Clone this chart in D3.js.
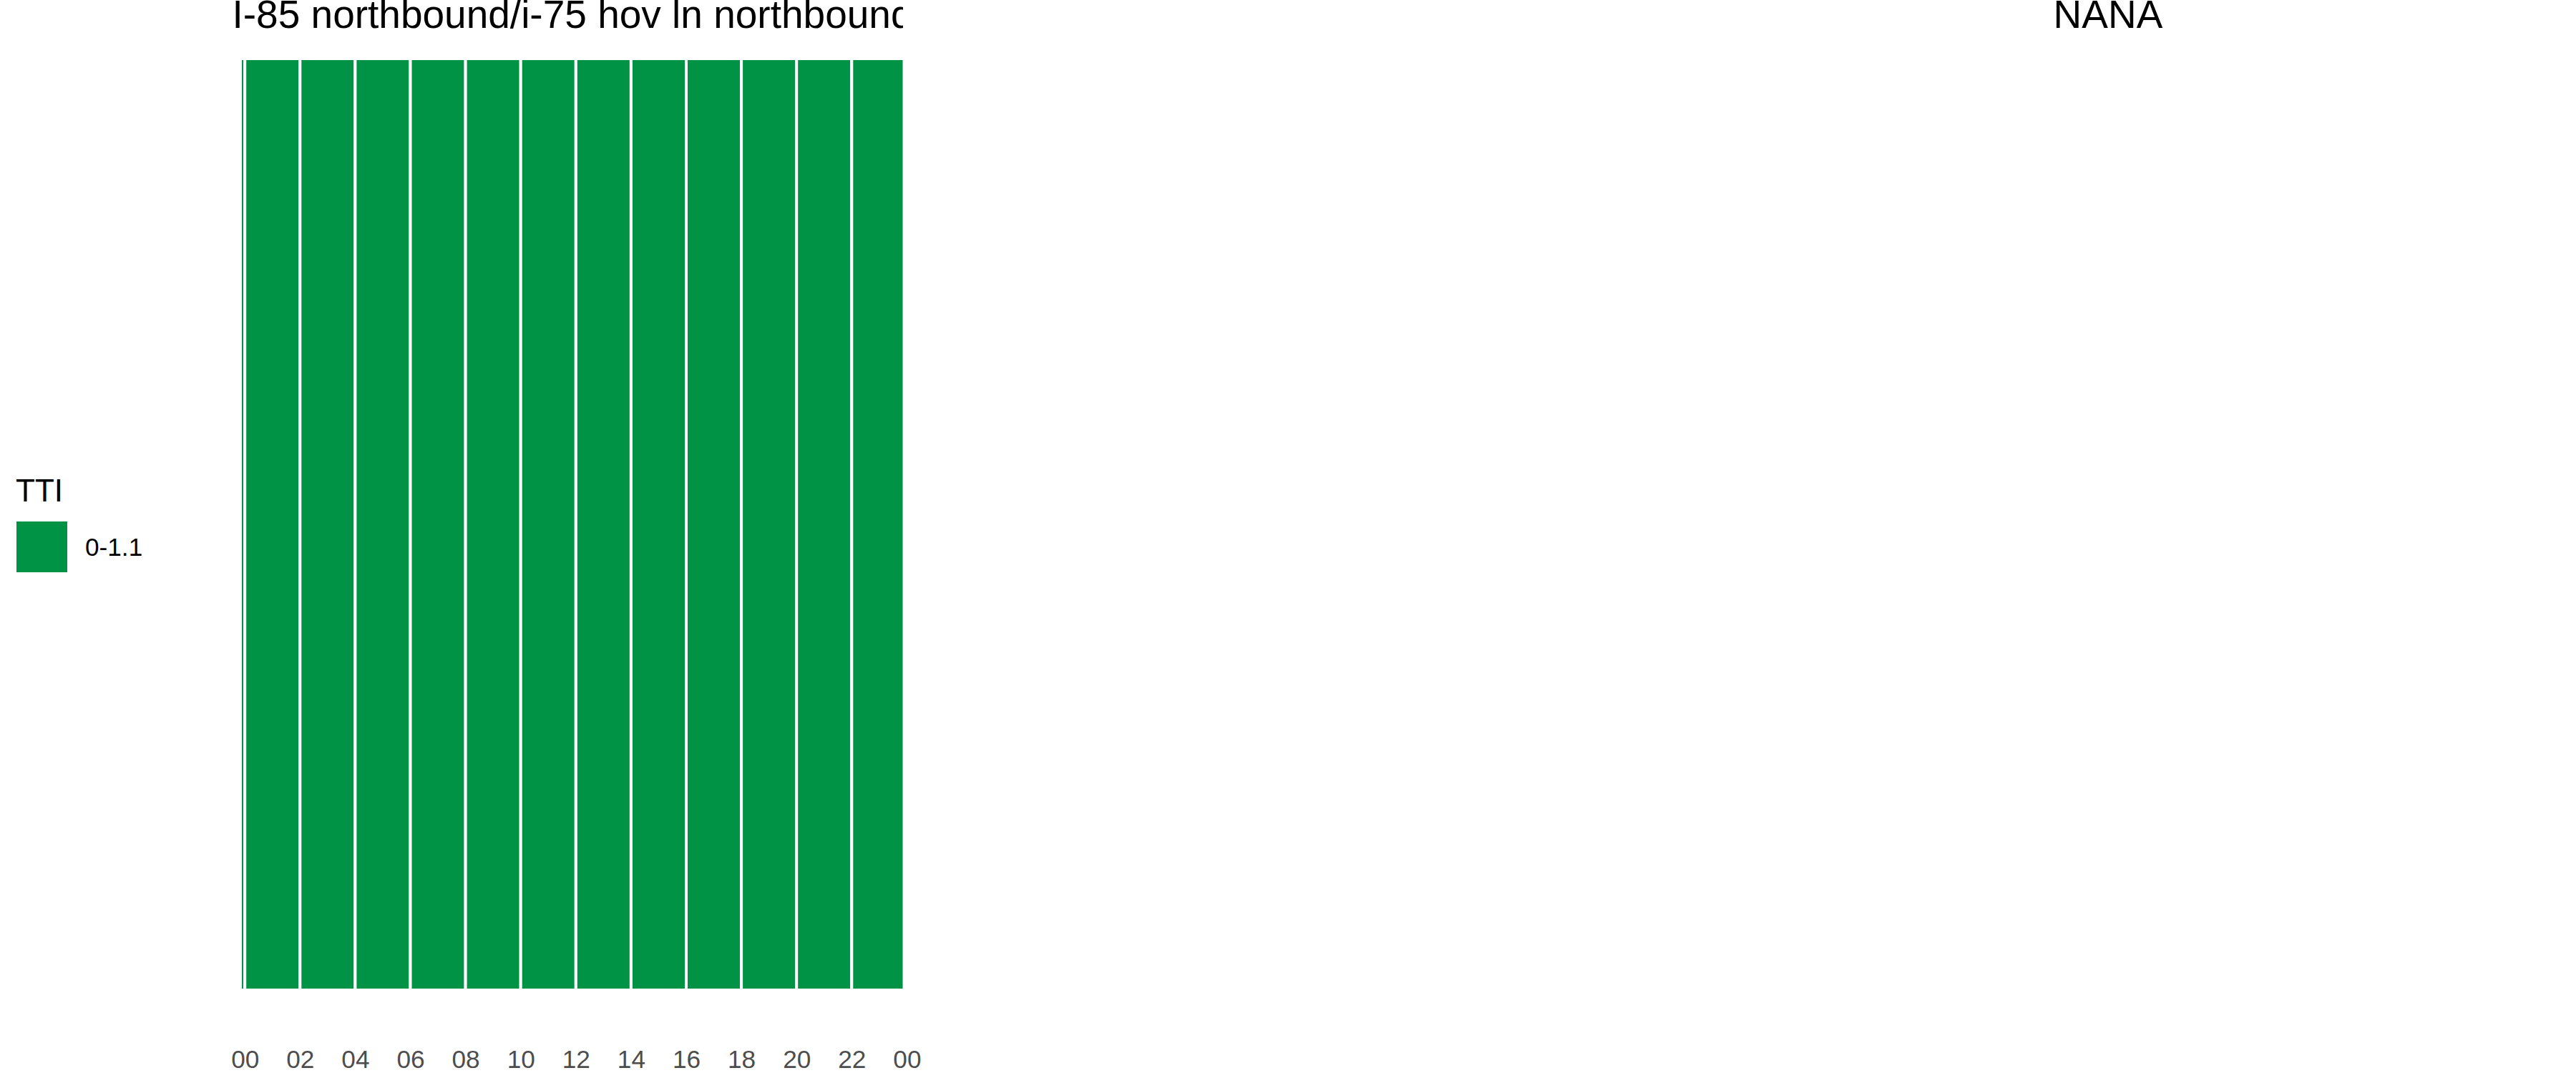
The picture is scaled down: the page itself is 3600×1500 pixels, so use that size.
<!DOCTYPE html>
<html>
<head>
<meta charset="utf-8">
<script src="https://cdn.jsdelivr.net/npm/d3@7"></script>
<style>
  html, body { margin: 0; padding: 0; background: #ffffff; }
  svg { display: block; font-family: "Liberation Sans", Arial, sans-serif; }
</style>
</head>
<body>
<svg id="chart" width="3600" height="1500"></svg>
<script>
// ---- data ----
const panelTitles = ["I-85 northbound/i-75 hov ln northbound", "NANA"];
const tileStartHour = [-0.16, 0, 2, 4, 6, 8, 10, 12, 14, 16, 18, 20, 22];
const tileEndHour   = [0, 2, 4, 6, 8, 10, 12, 14, 16, 18, 20, 22, 23.9];
const tileTTI       = ["0-1.1","0-1.1","0-1.1","0-1.1","0-1.1","0-1.1","0-1.1","0-1.1","0-1.1","0-1.1","0-1.1","0-1.1","0-1.1"];
const ttiLevels = ["0-1.1"];
const ttiColors = ["#009245"];
const tickHours = [0, 2, 4, 6, 8, 10, 12, 14, 16, 18, 20, 22, 24];
const tickLabels = ["00","02","04","06","08","10","12","14","16","18","20","22","00"];

// ---- layout ----
const svg = d3.select("#chart");
const panelL = 338, panelR = 1262;
const x = d3.scaleLinear().domain([0, 24]).range([342.2, 1267.4]);
const y = d3.scaleBand().domain(["segment"]).range([82, 1384]).padding(0);
const color = d3.scaleOrdinal().domain(ttiLevels).range(ttiColors);

const tiles = tileStartHour.map((s, i) => ({ s, e: tileEndHour[i], tti: tileTTI[i] }));

const defs = svg.append("defs");
defs.append("clipPath").attr("id", "titleClip")
  .append("rect").attr("x", 0).attr("y", 0).attr("width", panelR).attr("height", 80);

// tiles
svg.append("g").selectAll("rect").data(tiles).join("rect")
  .attr("x", d => x(d.s))
  .attr("width", d => x(d.e) - x(d.s))
  .attr("y", y("segment"))
  .attr("height", y.bandwidth())
  .attr("fill", d => color(d.tti))
  .attr("stroke", "#ffffff")
  .attr("stroke-width", 4);

// x axis labels
const axis = d3.axisBottom(x).tickValues(tickHours)
  .tickFormat((d, i) => tickLabels[i]).tickSize(0).tickPadding(0);
const gx = svg.append("g").attr("transform", "translate(0,1466)").call(axis);
gx.select(".domain").remove();
gx.selectAll("text")
  .attr("fill", "#4d4d4d")
  .attr("font-size", 35.2)
  .attr("dy", "0.78em")
  .attr("font-family", "'Liberation Sans', Arial, sans-serif");

// panel titles
svg.append("g").attr("clip-path", "url(#titleClip)")
  .append("text")
  .attr("x", (panelL + panelR) / 2)
  .attr("y", 39)
  .attr("text-anchor", "middle")
  .attr("font-size", 55)
  .attr("fill", "#000")
  .text(panelTitles[0]);

svg.append("text")
  .attr("x", 2946)
  .attr("y", 39)
  .attr("text-anchor", "middle")
  .attr("font-size", 55)
  .attr("fill", "#000")
  .text(panelTitles[1]);

// legend
const lg = svg.append("g");
lg.append("text").attr("x", 22).attr("y", 701).attr("font-size", 44).attr("fill", "#000").text("TTI");
const items = lg.selectAll("g.item").data(ttiLevels).join("g").attr("class", "item")
  .attr("transform", (d, i) => `translate(23,${729 + i * 71})`);
items.append("rect").attr("width", 71).attr("height", 71).attr("fill", d => color(d));
items.append("text").attr("x", 96).attr("y", 48).attr("font-size", 35.2).attr("fill", "#000").text(d => d);
</script>
</body>
</html>
